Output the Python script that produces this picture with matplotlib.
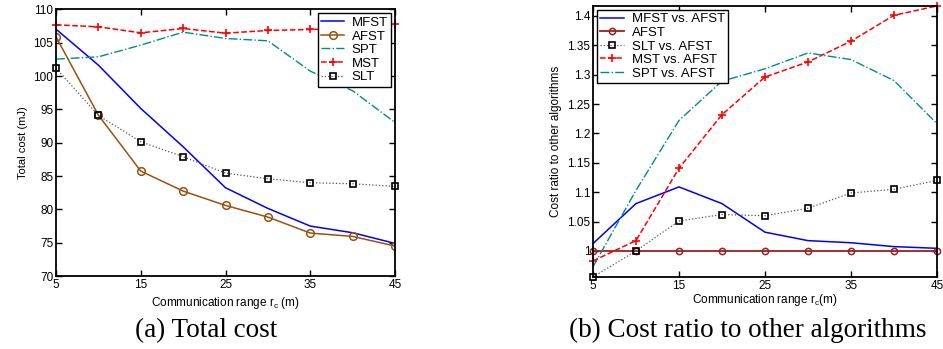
import matplotlib
matplotlib.use("Agg")
import matplotlib.pyplot as plt

plt.rcParams['font.family'] = ['Liberation Sans', 'DejaVu Sans']
plt.rcParams['mathtext.fontset'] = 'custom'
plt.rcParams['mathtext.rm'] = 'Liberation Sans'
plt.rcParams['mathtext.it'] = 'Liberation Sans'

# communication range (m)
x_range = [5, 10, 15, 20, 25, 30, 35, 40, 45]

# (a) total cost (mJ)
cost_mfst = [107.05, 101.65, 95.15, 89.4, 83.25, 80.15, 77.5, 76.5, 74.9]
cost_afst = [105.9, 94.15, 85.75, 82.75, 80.6, 78.85, 76.45, 75.95, 74.5]
cost_spt = [102.55, 102.9, 104.65, 106.6, 105.65, 105.3, 100.75, 97.8, 93.05]
cost_mst = [107.7, 107.4, 106.5, 107.15, 106.45, 106.85, 107.0, 107.1, 107.75]
cost_slt = [101.2, 94.1, 90.15, 87.9, 85.45, 84.6, 84.0, 83.85, 83.45]

# (b) ratio to AFST
ratio_mfst = [1.0125, 1.0806, 1.109, 1.0806, 1.032, 1.0176, 1.014, 1.0074, 1.0045]
ratio_afst = [1, 1, 1, 1, 1, 1, 1, 1, 1]
ratio_slt = [0.9557, 1.0, 1.051, 1.062, 1.060, 1.0726, 1.0987, 1.105, 1.120]
ratio_mst = [0.983, 1.0176, 1.1407, 1.232, 1.296, 1.3217, 1.357, 1.401, 1.417]
ratio_spt = [0.973, 1.103, 1.222, 1.289, 1.310, 1.337, 1.3257, 1.290, 1.2167]

xticks = [5, 15, 25, 35, 45]


def style_axes(ax):
    ax.tick_params(direction='in', top=True, right=True, labelsize=8.5,
                   length=4, width=1, pad=2)
    for s in ax.spines.values():
        s.set_linewidth(1.3)
    ax.set_xticks(xticks)
    ax.set_xlim(5, 45)


fig = plt.figure(figsize=(9.43, 3.49), dpi=100)

ax1 = fig.add_axes([0.0594, 0.209, 0.3595, 0.7638])
ax1.plot(x_range, cost_mfst, color='blue', lw=1.1, label='MFST')
ax1.plot(x_range, cost_afst, color='#99520f', lw=1.1, marker='o', ms=5.5,
         mfc='none', mew=1.1, label='AFST')
ax1.plot(x_range, cost_spt, color='#008b8b', lw=1.0, ls='-.', label='SPT')
ax1.plot(x_range, cost_mst, color='red', lw=1.1, ls='--', marker='+', ms=6,
         mew=1.2, label='MST', clip_on=False)
ax1.plot(x_range, cost_slt, color='#555555', lw=0.9, ls=':', marker='s', ms=4.5,
         mfc='none', mec='black', mew=1.2, label='SLT', clip_on=False)
style_axes(ax1)
ax1.set_ylim(70, 110)
ax1.set_yticks(range(70, 111, 5))
ax1.set_ylabel('Total cost (mJ)', fontsize=8, labelpad=4)
ax1.set_xlabel(r'Communication range r$_{\rm c}$ (m)', fontsize=8.5, labelpad=3)
leg1 = ax1.legend(loc='upper right', fontsize=9.5, fancybox=False,
                  edgecolor='black', framealpha=1, borderaxespad=0.3,
                  handlelength=1.7, labelspacing=0.1, borderpad=0.25,
                  handletextpad=0.6)
leg1.get_frame().set_linewidth(1.0)

ax2 = fig.add_axes([0.6288, 0.2063, 0.3648, 0.7767])
ax2.plot(x_range, ratio_mfst, color='blue', lw=1.1, label='MFST vs. AFST')
ax2.plot(x_range, ratio_afst, color='#9b2020', lw=1.3, marker='o', ms=4.5,
         mfc='none', mew=1.1, label='AFST', clip_on=False)
ax2.plot(x_range, ratio_slt, color='#555555', lw=0.9, ls=':', marker='s', ms=4.5,
         mfc='none', mec='black', mew=1.2, label='SLT vs. AFST', clip_on=False)
ax2.plot(x_range, ratio_mst, color='red', lw=1.1, ls='--', marker='+', ms=6,
         mew=1.2, label='MST vs. AFST', clip_on=False)
ax2.plot(x_range, ratio_spt, color='#008b8b', lw=1.0, ls='-.',
         label='SPT vs. AFST')
style_axes(ax2)
ax2.set_ylim(0.9557, 1.417)
ax2.set_yticks([1, 1.05, 1.1, 1.15, 1.2, 1.25, 1.3, 1.35, 1.4])
ax2.set_yticklabels(['1', '1.05', '1.1', '1.15', '1.2', '1.25', '1.3', '1.35', '1.4'])
ax2.set_ylabel('Cost ratio to other algorithms', fontsize=8.5, labelpad=4)
ax2.set_xlabel(r'Communication range r$_{\rm c}$(m)', fontsize=8.5, labelpad=0)
leg2 = ax2.legend(loc='upper left', fontsize=9.5, fancybox=False,
                  edgecolor='black', framealpha=1, borderaxespad=0.3,
                  handlelength=1.8, labelspacing=0.1, borderpad=0.25,
                  handletextpad=0.6)
leg2.get_frame().set_linewidth(1.0)

fig.text(0.2185, 0.052, '(a) Total cost', family='Liberation Serif',
         fontsize=19.5, ha='center', va='center')
fig.text(0.793, 0.052, '(b) Cost ratio to other algorithms',
         family='Liberation Serif', fontsize=19.5, ha='center', va='center')

fig.savefig('out.png', dpi=100)
